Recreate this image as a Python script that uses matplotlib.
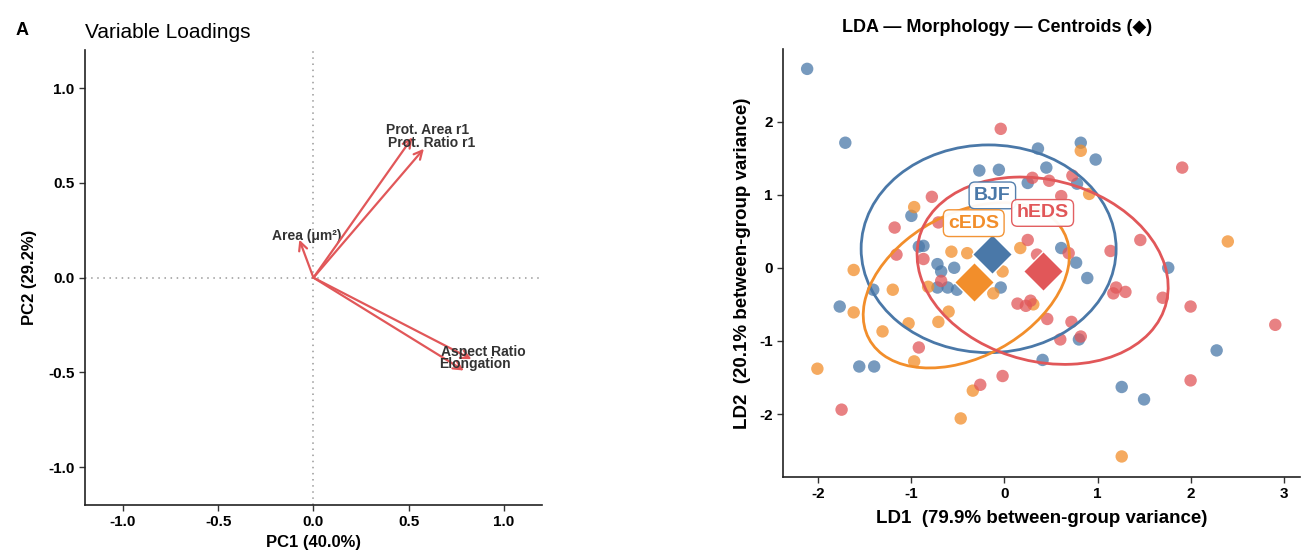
import numpy as np
import matplotlib
matplotlib.use("Agg")
import matplotlib.pyplot as plt
from matplotlib.patches import Ellipse

plt.rcParams['font.family'] = ['Liberation Sans', 'DejaVu Sans']
plt.rcParams['axes.unicode_minus'] = False

# ---- PCA loadings (left panel) ----
var_names = ["Area (\u03bcm\u00b2)", "Prot. Area r1", "Prot. Ratio r1", "Aspect Ratio", "Elongation"]
pc1_load = [-0.074, 0.52, 0.58, 0.83, 0.79]
pc2_load = [0.20, 0.74, 0.68, -0.43, -0.49]
# label nudges relative to arrow tips
lab_dx = [0.04, 0.08, 0.04, 0.06, 0.06]
lab_dy = [0.02, 0.04, 0.03, 0.04, 0.035]

# ---- LDA scores (right panel) ----
groups = ["BJF", "cEDS", "hEDS"]
colors = ["#4A78A8", "#F28E2B", "#E15759"]

bjf_ld1 = [-2.12, -1.71, -0.27, -0.06, 0.36, 0.25, -1.00, -0.92, -0.87, 0.82, 0.98, 0.45,
           0.78, 0.61, 0.77, 0.89, -0.72, -0.68, -0.54, -0.72, -0.61, -0.51, -0.04, 0.80,
           0.41, -1.41, -1.77, -1.56, -1.40, 1.76, 2.28, 1.26, 1.50]
bjf_ld2 = [2.72, 1.71, 1.33, 1.34, 1.63, 1.16, 0.71, 0.29, 0.30, 1.71, 1.48, 1.37,
           1.15, 0.27, 0.07, -0.14, 0.05, -0.05, 0.00, -0.27, -0.27, -0.30, -0.27, -0.98,
           -1.26, -0.30, -0.53, -1.35, -1.35, 0.00, -1.13, -1.63, -1.80]

ceds_ld1 = [0.82, 0.91, -0.97, 2.40, -0.57, -0.40, 0.17, -0.02, -0.82, -1.20, -0.12, 0.31,
            -0.60, -0.71, -1.03, -1.31, -0.97, -1.62, -1.62, -2.01, -0.34, -0.47, 1.26]
ceds_ld2 = [1.60, 1.01, 0.83, 0.36, 0.22, 0.20, 0.27, -0.05, -0.26, -0.30, -0.35, -0.50,
            -0.60, -0.74, -0.76, -0.87, -1.28, -0.03, -0.61, -1.38, -1.68, -2.06, -2.58]

heds_ld1 = [-0.04, 0.30, -0.78, -1.18, -0.71, 0.48, 0.73, 0.61, 1.91, 1.46, 1.14, 0.25,
            -1.16, -0.87, 0.35, 0.69, -0.68, 0.14, 0.23, 0.28, 0.46, 0.72, 0.60, 0.82,
            -0.92, -0.02, -0.26, -1.75, 1.20, 1.17, 1.30, 1.70, 2.00, 2.91, 2.00]
heds_ld2 = [1.90, 1.23, 0.97, 0.55, 0.62, 1.19, 1.26, 0.98, 1.37, 0.38, 0.23, 0.38,
            0.18, 0.12, 0.18, 0.20, -0.18, -0.49, -0.52, -0.45, -0.70, -0.74, -0.98, -0.94,
            -1.09, -1.48, -1.60, -1.94, -0.27, -0.35, -0.33, -0.41, -0.53, -0.78, -1.54]

centroid_ld1 = [-0.13, -0.33, 0.41]
centroid_ld2 = [0.19, -0.19, -0.05]

# 95% ellipses: centre, full width, full height, angle (deg), in data units
ell_cx = [-0.17, -0.41, 0.41]
ell_cy = [0.26, -0.24, -0.04]
ell_w = [2.74, 2.61, 2.86]
ell_h = [2.84, 1.79, 2.38]
ell_ang = [0.0, 46.6, -36.7]

label_dy = 0.80

fig = plt.figure(figsize=(13.15, 5.52), dpi=100)

# ---------------- left: loadings ----------------
ax1 = fig.add_axes([0.0646, 0.085, 0.3475, 0.824])
ax1.set_xlim(-1.2, 1.2)
ax1.set_ylim(-1.2, 1.2)
ax1.axhline(0, color="#999999", ls=(0, (1, 3)), lw=1.1, zorder=1)
ax1.axvline(0, color="#999999", ls=(0, (1, 3)), lw=1.1, zorder=1)
for name, x, y, dx, dy in zip(var_names, pc1_load, pc2_load, lab_dx, lab_dy):
    ax1.annotate("", xy=(x, y), xytext=(0, 0),
                 arrowprops=dict(arrowstyle="->,head_length=0.6,head_width=0.3",
                                 color="#E15759", lw=1.6, shrinkA=0, shrinkB=0))
    ax1.text(x + dx, y + dy, name, ha="center", va="center", fontsize=10,
             fontweight="bold", color="#333333")
ax1.set_xticks([-1.0, -0.5, 0.0, 0.5, 1.0])
ax1.set_yticks([-1.0, -0.5, 0.0, 0.5, 1.0])
ax1.set_xlabel("PC1 (40.0%)", fontsize=12, fontweight="bold", labelpad=4)
ax1.set_ylabel("PC2 (29.2%)", fontsize=12, fontweight="bold", labelpad=8)
ax1.set_title("Variable Loadings", loc="left", fontsize=15, pad=9)
fig.text(0.012, 0.945, "A", fontsize=13, fontweight="bold", ha="left", va="center")

# ---------------- right: LDA ----------------
ax2 = fig.add_axes([0.5954, 0.136, 0.3935, 0.775])
xs = [bjf_ld1, ceds_ld1, heds_ld1]
ys = [bjf_ld2, ceds_ld2, heds_ld2]
for i, g in enumerate(groups):
    ax2.scatter(xs[i], ys[i], s=80, color=colors[i], alpha=0.75, edgecolor="none", zorder=2)
for i, g in enumerate(groups):
    ax2.add_patch(Ellipse((ell_cx[i], ell_cy[i]), ell_w[i], ell_h[i], angle=ell_ang[i],
                          fill=False, edgecolor=colors[i], lw=2.0, zorder=3))
for i, g in enumerate(groups):
    ax2.plot(centroid_ld1[i], centroid_ld2[i], marker="D", ms=20, color=colors[i],
             mec="white", mew=1.0, ls="none", zorder=4)
for i, g in enumerate(groups):
    ax2.text(centroid_ld1[i], centroid_ld2[i] + label_dy, g, ha="center", va="center",
             fontsize=14, fontweight="bold", color=colors[i], zorder=5,
             bbox=dict(boxstyle="round,pad=0.25,rounding_size=0.3", fc="white",
                       ec=colors[i], lw=1.0, alpha=0.95))
ax2.set_xlim(-2.38, 3.18)
ax2.set_ylim(-2.86, 2.99)
ax2.set_xticks([-2, -1, 0, 1, 2, 3])
ax2.set_yticks([-2, -1, 0, 1, 2])
ax2.set_xlabel("LD1  (79.9% between-group variance)", fontsize=13.5, fontweight="bold", labelpad=6)
ax2.set_ylabel("LD2  (20.1% between-group variance)", fontsize=13.5, fontweight="bold", labelpad=6)
ax2.set_title("LDA \u2014 Morphology \u2014 Centroids (\u25c6)", fontsize=13,
              fontweight="bold", pad=12, x=0.414)

for ax in (ax1, ax2):
    for s in ("top", "right"):
        ax.spines[s].set_visible(False)
    for s in ("left", "bottom"):
        ax.spines[s].set_linewidth(1.2)
        ax.spines[s].set_color("#222222")
    ax.tick_params(direction="out", length=4, width=1, colors="#333333", labelsize=11,
                   labelcolor="black")
    for lab in ax.get_xticklabels() + ax.get_yticklabels():
        lab.set_fontweight("bold")

fig.savefig("out.png", dpi=100)
